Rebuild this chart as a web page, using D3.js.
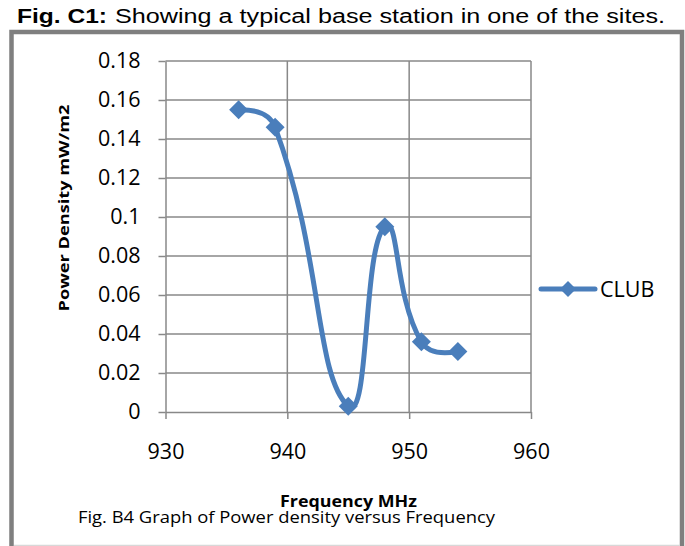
<!DOCTYPE html>
<html>
<head>
<meta charset="utf-8">
<script src="https://cdn.jsdelivr.net/npm/d3@7"></script>
<style>
  html, body { margin: 0; padding: 0; background: #fff; }
  svg { display: block; }
</style>
</head>
<body>
<svg id="chart" width="685" height="546"></svg>
<script>
// ---- data ----
const frequencies = [936, 939, 945, 948, 951, 954];
const powerDensity = [0.155, 0.146, 0.003, 0.095, 0.036, 0.031];
const seriesName = "CLUB";
const xTicks = [930, 940, 950, 960];
const xTickLabels = ["930", "940", "950", "960"];
const yTicks = [0, 0.02, 0.04, 0.06, 0.08, 0.1, 0.12, 0.14, 0.16, 0.18];
const yTickLabels = ["0", "0.02", "0.04", "0.06", "0.08", "0.1", "0.12", "0.14", "0.16", "0.18"];

const svg = d3.select("#chart");
const blue = "#4a7ebb";
const grid = "#888888";

// Excel-like smoothed curve (cardinal spline with distance-scaled tangents)
function excelSmooth(context) {
  let pts = [];
  return {
    areaStart() {}, areaEnd() {},
    lineStart() { pts = []; },
    point(x, y) { pts.push([+x, +y]); },
    lineEnd() {
      const n = pts.length, t = 0.5;
      if (!n) return;
      context.moveTo(pts[0][0], pts[0][1]);
      if (n < 3) { for (let i = 1; i < n; i++) context.lineTo(pts[i][0], pts[i][1]); return; }
      const cin = [], cout = [];
      for (let i = 1; i < n - 1; i++) {
        const p0 = pts[i - 1], p1 = pts[i], p2 = pts[i + 1];
        const d1 = Math.hypot(p1[0] - p0[0], p1[1] - p0[1]);
        const d2 = Math.hypot(p2[0] - p1[0], p2[1] - p1[1]);
        const tx = p2[0] - p0[0], ty = p2[1] - p0[1];
        const fa = t * d1 / (d1 + d2), fb = t * d2 / (d1 + d2);
        cin[i] = [p1[0] - tx * fa, p1[1] - ty * fa];
        cout[i] = [p1[0] + tx * fb, p1[1] + ty * fb];
      }
      context.quadraticCurveTo(cin[1][0], cin[1][1], pts[1][0], pts[1][1]);
      for (let i = 1; i < n - 2; i++) {
        context.bezierCurveTo(cout[i][0], cout[i][1], cin[i + 1][0], cin[i + 1][1], pts[i + 1][0], pts[i + 1][1]);
      }
      context.quadraticCurveTo(cout[n - 2][0], cout[n - 2][1], pts[n - 1][0], pts[n - 1][1]);
    }
  };
}

// frame
svg.append("path")
  .attr("d", "M11.5,546 L11.5,32 L682,32 L682,546")
  .attr("fill", "none").attr("stroke", "#7f7f7f").attr("stroke-width", 4.5);
svg.append("line").attr("x1", 14).attr("x2", 680).attr("y1", 545.5).attr("y2", 545.5)
  .attr("stroke", "#d8d8d8").attr("stroke-width", 1.5);

// title
svg.append("text").attr("x", 17).attr("y", 23)
  .attr("font-family", "'Liberation Sans Narrow', 'Liberation Sans', Arial, sans-serif")
  .attr("font-size", 19.5).attr("font-weight", "bold").attr("fill", "#000")
  .attr("textLength", 90).attr("lengthAdjust", "spacingAndGlyphs")
  .text("Fig. C1:");
svg.append("text").attr("x", 115).attr("y", 23)
  .attr("font-family", "'Liberation Sans Narrow', 'Liberation Sans', Arial, sans-serif")
  .attr("font-size", 19.5).attr("fill", "#000")
  .attr("textLength", 550).attr("lengthAdjust", "spacingAndGlyphs")
  .text("Showing a typical base station in one of the sites.");

// scales
const x = d3.scaleLinear().domain([930, 960]).range([165.5, 531]);
const y = d3.scaleLinear().domain([0, 0.18]).range([412, 61]);

// gridlines
svg.append("g").selectAll("line").data(yTicks.filter(d => d > 0)).join("line")
  .attr("x1", x(930)).attr("x2", x(960))
  .attr("y1", d => y(d)).attr("y2", d => y(d))
  .attr("stroke", grid).attr("stroke-width", 1.5);
svg.append("g").selectAll("line").data(xTicks.filter(d => d > 930)).join("line")
  .attr("x1", d => x(d)).attr("x2", d => x(d))
  .attr("y1", y(0.18)).attr("y2", y(0))
  .attr("stroke", grid).attr("stroke-width", 1.5);

// axes
const yAxis = d3.axisLeft(y).tickValues(yTicks)
  .tickFormat((d, i) => yTickLabels[i]).tickSize(7).tickPadding(18).tickSizeOuter(0);
const gy = svg.append("g").attr("transform", `translate(${x(930)},0)`).call(yAxis);
const xAxis = d3.axisBottom(x).tickValues(xTicks)
  .tickFormat((d, i) => xTickLabels[i]).tickSize(7).tickPadding(25).tickSizeOuter(0);
const gx = svg.append("g").attr("transform", `translate(0,${y(0)})`).call(xAxis);
[gy, gx].forEach(g => {
  g.select(".domain").attr("stroke", grid).attr("stroke-width", 1.5);
  g.selectAll(".tick line").attr("stroke", grid).attr("stroke-width", 1.5);
  g.selectAll(".tick text").attr("font-family", "'Open Sans', sans-serif")
    .attr("font-size", 21.5).attr("fill", "#000");
});

// series line
const pts = frequencies.map((f, i) => [x(f), y(powerDensity[i])]);
const line = d3.line().curve(excelSmooth);
svg.append("path").attr("d", line(pts))
  .attr("fill", "none").attr("stroke", blue).attr("stroke-width", 5)
  .attr("stroke-linejoin", "round").attr("stroke-linecap", "round");

const diamond = s => `M0,${-s} L${s},0 L0,${s} L${-s},0 Z`;
svg.append("g").selectAll("path").data(pts).join("path")
  .attr("transform", d => `translate(${d[0]},${d[1]})`)
  .attr("d", diamond(9.5)).attr("fill", blue);

// legend
svg.append("line").attr("x1", 541).attr("x2", 595).attr("y1", 289).attr("y2", 289)
  .attr("stroke", blue).attr("stroke-width", 5).attr("stroke-linecap", "round");
svg.append("path").attr("transform", "translate(568,289)").attr("d", diamond(8)).attr("fill", blue);
svg.append("text").attr("x", 600).attr("y", 297)
  .attr("font-family", "'Open Sans', sans-serif").attr("font-size", 21.5).attr("fill", "#000")
  .text(seriesName);

// axis titles
svg.append("text").attr("transform", "translate(69,208) rotate(-90)")
  .attr("text-anchor", "middle")
  .attr("font-family", "'Open Sans', sans-serif").attr("font-size", 15).attr("font-weight", "bold")
  .attr("textLength", 207).attr("lengthAdjust", "spacingAndGlyphs")
  .text("Power Density mW/m2");
svg.append("text").attr("x", 280).attr("y", 507)
  .attr("font-family", "'Open Sans', sans-serif").attr("font-size", 15.5).attr("font-weight", "bold")
  .attr("textLength", 137).attr("lengthAdjust", "spacingAndGlyphs")
  .text("Frequency MHz");

// caption
svg.append("text").attr("x", 78).attr("y", 523)
  .attr("font-family", "'Open Sans', sans-serif").attr("font-size", 16.5)
  .attr("textLength", 417).attr("lengthAdjust", "spacingAndGlyphs")
  .text("Fig. B4 Graph of Power density versus Frequency");
</script>
</body>
</html>
